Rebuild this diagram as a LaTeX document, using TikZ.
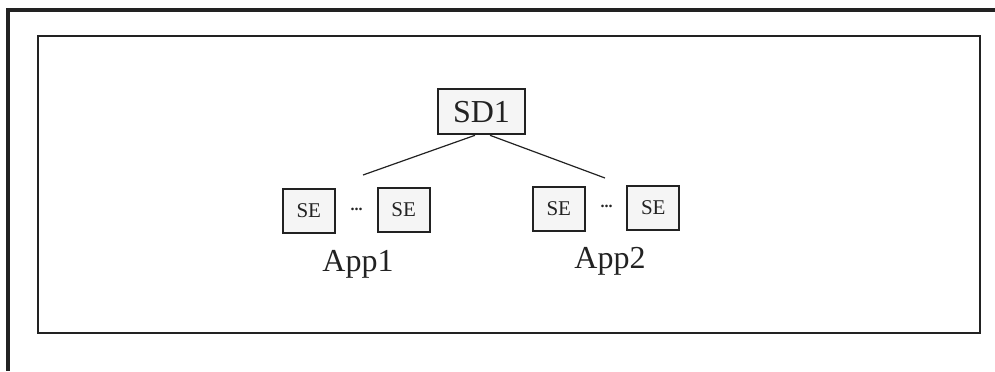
\documentclass[tikz,border=0pt]{standalone}
\usepackage{fontspec}
\setmainfont{Liberation Serif}
\definecolor{ink}{HTML}{222222}
\definecolor{boxfill}{HTML}{F5F5F5}
\tikzset{
  sebox/.style={draw=ink, line width=1pt, fill=boxfill, minimum width=26pt, minimum height=22pt, inner sep=0pt, font=\fontsize{10.5}{10.5}\selectfont, text=ink},
  sdbox/.style={draw=ink, line width=1pt, fill=boxfill, minimum width=43.5pt, minimum height=22.5pt, inner sep=0pt, font=\fontsize{16}{16}\selectfont, text=ink},
  dotsnode/.style={inner sep=0pt, font=\fontsize{8}{8}\selectfont\bfseries, text=ink},
  applabel/.style={inner sep=0pt, font=\fontsize{16}{16}\selectfont, text=ink},
  link/.style={draw=ink, line width=0.6pt}
}
\begin{document}
\begin{tikzpicture}[x=0.5pt,y=-0.5pt]
\useasboundingbox (0,0) rectangle (995,371);
% outer frame
\draw[ink, line width=1.6pt] (995,10) -- (8,10) -- (8,371);
% inner frame
\draw[ink, line width=1pt] (37.7,35.7) rectangle (980,333);
% SD1
\node[sdbox] (sd1) at (481.5,111.8) {SD1};
% App1 group
\node[sebox] (se11) at (308.8,211) {SE};
\node[sebox] (se12) at (403.6,209.8) {SE};
\node[dotsnode] (d1) at (356.5,209.5) {...};
\node[applabel, anchor=base] (app1) at (358,271.5) {App1};
% App2 group
\node[sebox] (se21) at (558.8,208.8) {SE};
\node[sebox] (se22) at (653.3,207.5) {SE};
\node[dotsnode] (d2) at (606.5,206.5) {...};
\node[applabel, anchor=base] (app2) at (610,268) {App2};
% connectors
\coordinate (l1) at (363,175);
\coordinate (l2) at (605,178);
\draw[link] ([xshift=-3.25pt]sd1.south) -- (l1);
\draw[link] ([xshift=4.25pt]sd1.south) -- (l2);
\end{tikzpicture}
\end{document}
